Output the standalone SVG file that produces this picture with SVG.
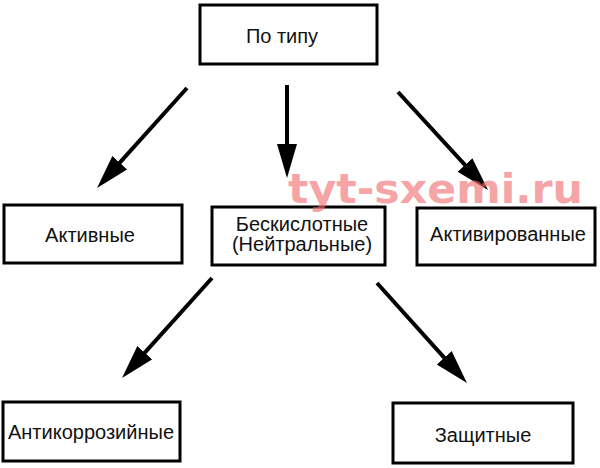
<svg xmlns="http://www.w3.org/2000/svg" width="600" height="468" viewBox="0 0 600 468">
<style>
.box{fill:#fff;stroke:#000;stroke-width:3}
.lbl{font-family:"Liberation Sans",Arial,sans-serif;font-size:20px;fill:#111;text-anchor:middle}
.arr{stroke:#000;stroke-width:4;fill:none;marker-end:url(#ah)}
.wm{font-family:"DejaVu Sans",Verdana,sans-serif;font-weight:bold;font-size:40px;fill:#f07070;fill-opacity:0.65}
</style>
<defs>
<marker id="ah" markerUnits="userSpaceOnUse" markerWidth="36" markerHeight="22" refX="4" refY="10" orient="auto">
<path d="M0,0 L34,10 L0,20 z" fill="#000"/>
</marker>
</defs>
<rect width="600" height="468" fill="#fff"/>
<g id="connectors">
<line class="arr" x1="187" y1="88" x2="117.1" y2="165.7"/>
<line class="arr" x1="287" y1="85" x2="287" y2="148"/>
<line class="arr" x1="398" y1="92" x2="467.7" y2="167.9"/>
<line class="arr" x1="212" y1="278" x2="142.1" y2="355.7"/>
<line class="arr" x1="377" y1="283" x2="446.9" y2="360.7"/>
</g>
<g id="n-po-tipu">
<rect class="box" x="200" y="5" width="177" height="59"/>
<text class="lbl" x="282" y="43">По типу</text>
</g>
<g id="n-aktivnye">
<rect class="box" x="4" y="205" width="178" height="58"/>
<text class="lbl" x="90" y="242">Активные</text>
</g>
<g id="n-beskislotnye">
<rect class="box" x="212" y="207" width="173" height="58"/>
<text class="lbl" x="302" y="231">Бескислотные</text>
<text class="lbl" x="302" y="251">(Нейтральные)</text>
</g>
<g id="n-aktivirovannye">
<rect class="box" x="417" y="208" width="178" height="57"/>
<text class="lbl" x="508" y="241">Активированные</text>
</g>
<g id="n-antikorroziynye">
<rect class="box" x="3" y="402" width="177" height="59"/>
<text class="lbl" x="91" y="439">Антикоррозийные</text>
</g>
<g id="n-zashchitnye">
<rect class="box" x="393" y="403" width="180" height="60"/>
<text class="lbl" x="483" y="442">Защитные</text>
</g>
<text class="wm" x="288" y="203" textLength="295" lengthAdjust="spacingAndGlyphs">tyt-sxemi.ru</text>
</svg>
